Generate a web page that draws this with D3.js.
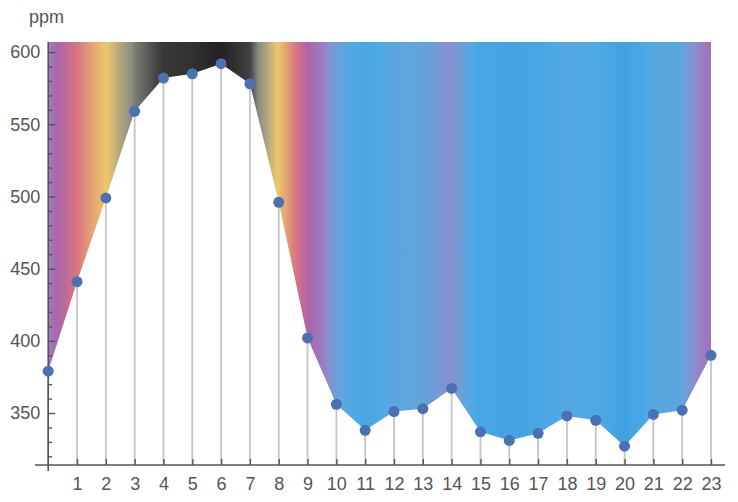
<!DOCTYPE html>
<html><head><meta charset="utf-8">
<script src="https://cdn.jsdelivr.net/npm/d3@7"></script>
<style>body{margin:0;background:#fff}svg{display:block}text{font-family:"Liberation Sans",Arial,sans-serif;fill:#555}</style>
</head><body><svg id="c" width="738" height="502"></svg>
<script>
const hours = d3.range(0,24);
const ppm = [379,441,499,559,582,585,592,578,496,402,356,338,351,353,367,337,331,336,348,345,327,349,352,390];
const yTicks = [350,400,450,500,550,600];
const xTicks = d3.range(1,24);
const colorValues = [325,345,353,367,380,400,440,470,500,530,555,575,595];
const colorStops = ["#3f9fe0","#4eaae6","#60a5dc","#8a90d0","#9a7cc0","#ac64aa","#d87480","#e4a074","#ecca6c","#b0a480","#8a8a80","#484848","#1a1a1a"];

const svg = d3.select("#c");
const x = d3.scaleLinear().domain([0,23]).range([48.2,711]);
const y = d3.scaleLinear().domain([314,607]).range([465,42]);
const col = d3.scaleLinear().domain(colorValues).range(colorStops).clamp(true);
const interp = v => { const i = Math.min(22, Math.floor(v)); const t = v - i; return ppm[i]*(1-t)+ppm[i+1]*t; };

const defs = svg.append("defs");
const grad = defs.append("linearGradient").attr("id","g").attr("gradientUnits","userSpaceOnUse")
  .attr("x1",x(0)).attr("x2",x(23)).attr("y1",0).attr("y2",0);
d3.range(0,230.5).forEach(k=>{const v=k/10; grad.append("stop").attr("offset",v/23).attr("stop-color",col(interp(v)));});

const area = d3.area().x((d,i)=>x(hours[i])).y0(y(607)).y1(d=>y(d));
svg.append("path").datum(ppm).attr("d",area).attr("fill","url(#g)");

// stems
svg.selectAll("line.stem").data(ppm).join("line").attr("class","stem")
  .attr("x1",(d,i)=>x(hours[i])).attr("x2",(d,i)=>x(hours[i]))
  .attr("y1",d=>y(d)).attr("y2",y(314)).attr("stroke","#c4c4c4").attr("stroke-width",1.8);

const ax = "#555";
const fontFam = "Liberation Sans, Arial, sans-serif";
const xAxis = d3.axisBottom(x).tickValues(xTicks).tickSize(-6).tickPadding(12).tickFormat(d3.format("d"));
const gx = svg.append("g").attr("transform",`translate(0,${y(314)})`).call(xAxis);
gx.select(".domain").remove();
gx.selectAll("text").attr("font-size",18).style("fill","#555").attr("font-family",fontFam);
svg.append("line").attr("x1",35).attr("x2",725).attr("y1",y(314)).attr("y2",y(314)).attr("stroke",ax).attr("stroke-width",1.4);

const gy = svg.append("g").attr("transform",`translate(${x(0)},0)`);
gy.call(d3.axisLeft(y).tickValues(d3.range(320,610,10).filter(v=>v%50!==0)).tickSize(-4).tickFormat(""));
gy.select(".domain").remove();
const gy2 = svg.append("g").attr("transform",`translate(${x(0)},0)`);
gy2.call(d3.axisLeft(y).tickValues(yTicks).tickSize(-7).tickPadding(8).tickFormat(d3.format("d")));
gy2.select(".domain").remove();
svg.selectAll("g line").attr("stroke",ax).attr("stroke-width",1.4);
gy2.selectAll("text").attr("font-size",18).style("fill","#555").attr("font-family",fontFam);
svg.append("line").attr("x1",x(0)).attr("x2",x(0)).attr("y1",y(607)).attr("y2",y(314)+6).attr("stroke",ax).attr("stroke-width",1.6);

svg.selectAll("circle").data(ppm).join("circle")
  .attr("cx",(d,i)=>x(hours[i])).attr("cy",d=>y(d)).attr("r",5.5).attr("fill","#4a72b0");

svg.append("text").attr("x",29).attr("y",23).attr("font-size",18).text("ppm");
</script></body></html>
